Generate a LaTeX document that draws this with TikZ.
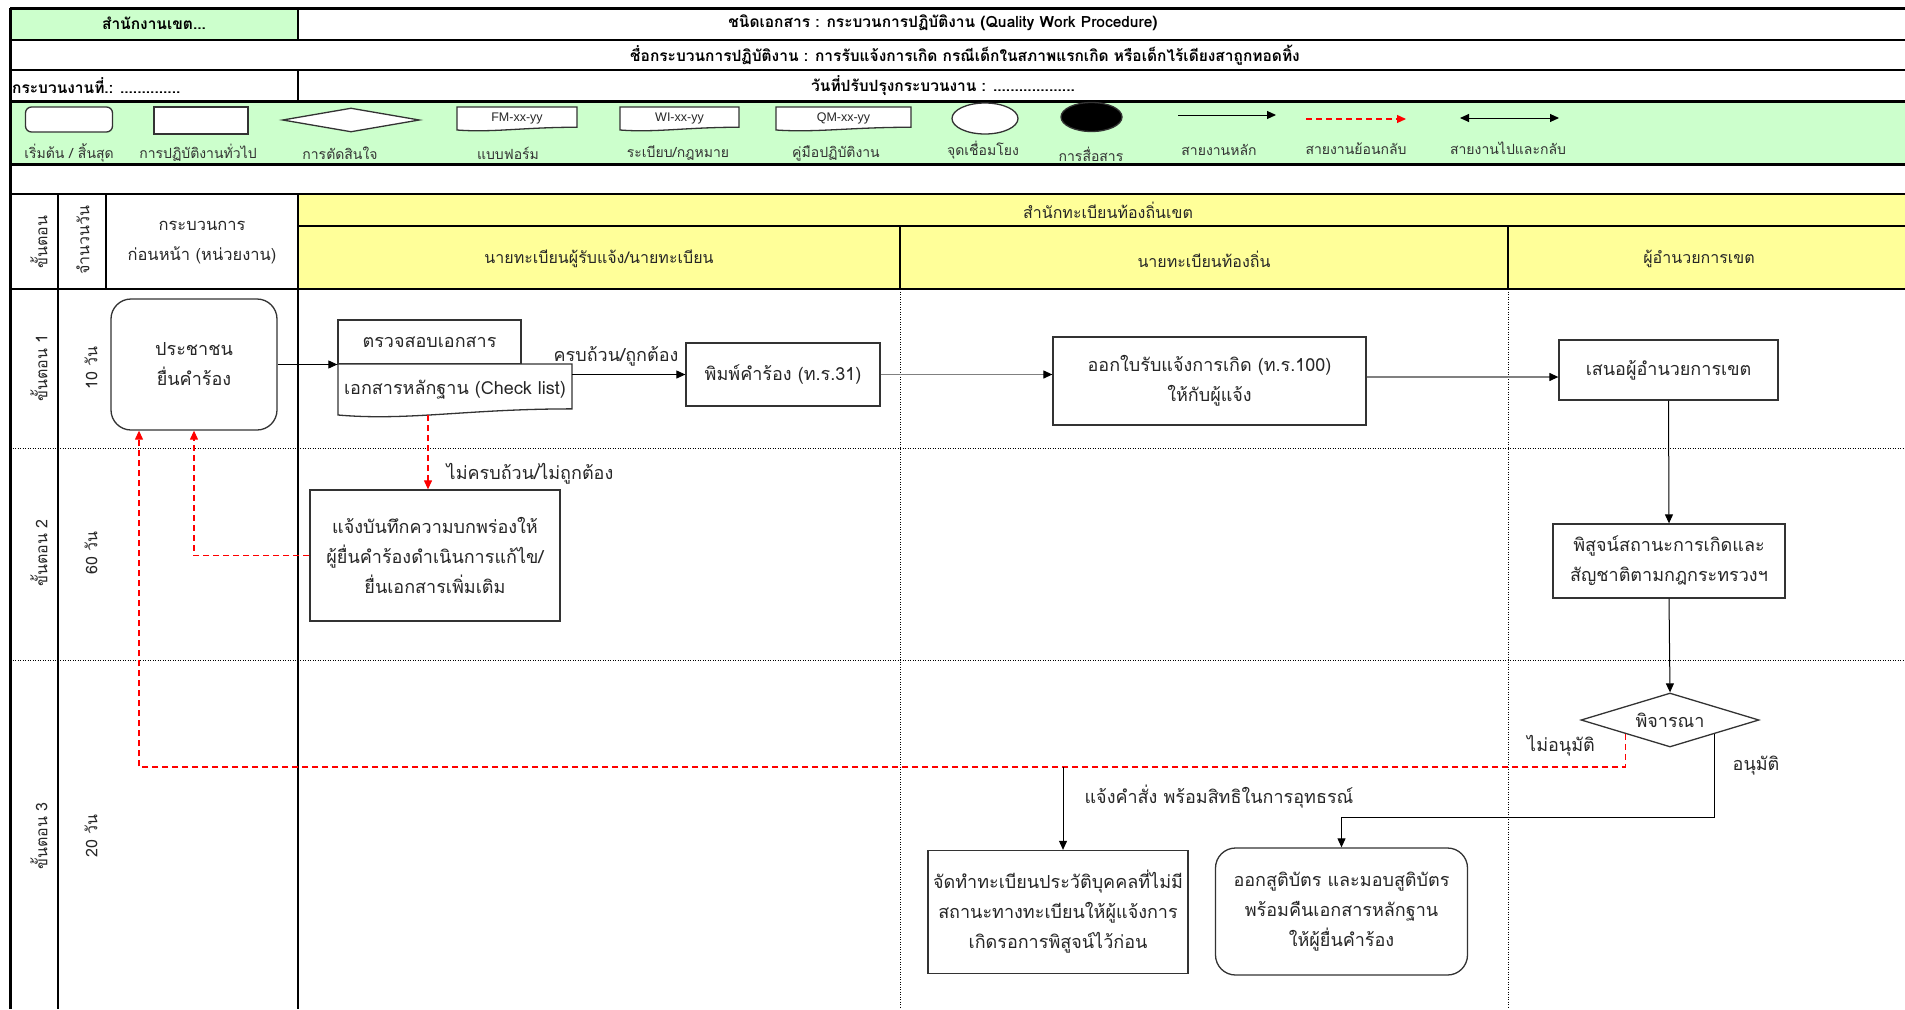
\documentclass[tikz,border=0pt]{standalone}
\usepackage{fontspec}
\newfontfamily\thaifont[Script=Thai]{Loma}
\newfontfamily\codefont{Liberation Sans}
\usetikzlibrary{shapes.geometric,arrows.meta,positioning,calc}
\definecolor{formgreen}{HTML}{CCFFCC}
\definecolor{laneyellow}{HTML}{FFFF99}
\def\docframe(#1,#2)(#3,#4){\draw[boxline, fill=white] ({#1-#3/2},{#2-#4/2}) -- ({#1+#3/2},{#2-#4/2}) -- ({#1+#3/2},{#2+#4/2-0.12*#4}) .. controls ({#1+0.05*#3},{#2+#4/2-0.12*#4}) and ({#1-0.2*#3},{#2+#4/2+0.12*#4}) .. ({#1-#3/2},{#2+#4/2}) -- cycle;}
\tikzset{
  boxline/.style={draw=black!80, line width=1.3},
  procbox/.style={boxline, fill=white, align=center, inner sep=2, text=black!85},
  termbox/.style={procbox, rounded corners=20},
  docnode/.style={align=center, inner sep=0, text=black!85},
  choice/.style={procbox, diamond, aspect=3.3, inner sep=0},
  flow/.style={line width=1, -{Triangle[length=9,width=8]}},
  greyflow/.style={line width=1.2, draw=black!50, -{Triangle[length=9,width=8,color=black]}},
  back/.style={red, line width=1.2, dash pattern=on 6 off 4, -{Triangle[length=9,width=8]}},
  gridline/.style={line width=1.5},
  heavyline/.style={line width=3},
  dotline/.style={line width=1, dash pattern=on 1 off 1.5},
  headtxt/.style={font=\thaifont\bfseries\fontsize{15.5}{18}\selectfont},
  legtxt/.style={font=\thaifont\fontsize{14}{16}\selectfont, text=black!80},
  lanetxt/.style={font=\thaifont\fontsize{16}{20}\selectfont, text=black!85},
  steptxt/.style={font=\thaifont\fontsize{16}{18}\selectfont, text=black!85, rotate=90},
  flowtxt/.style={font=\thaifont\fontsize{18}{22}\selectfont, text=black!85},
}

\begin{document}
\begin{tikzpicture}[x=1pt, y=-1pt, font=\thaifont\fontsize{18}{30}\selectfont]
	%%%%% START %%%%%
	\useasboundingbox (0,0) rectangle (1905,1009);
	
	\fill[formgreen] (10,8) rectangle (298,40);
	\fill[formgreen] (10,101) rectangle (1905,164);
	\fill[laneyellow] (298,194) rectangle (1905,289);
	
	% form header
	\draw[heavyline] (10,8) -- (1905,8);
	\draw[gridline] (10,40) -- (1905,40);
	\draw[gridline] (10,70) -- (1905,70);
	\draw[heavyline] (10,101) -- (1905,101);
	\draw[heavyline] (10,164) -- (1905,164);
	\draw[gridline] (298,8) -- (298,40);
	\draw[gridline] (298,70) -- (298,101);
	\draw[heavyline] (10,8) -- (10,1009);
	
	\node[headtxt] (office) at (154,23) {สำนักงานเขต...};
	\node[headtxt] (doctype) at (943,23) {ชนิดเอกสาร : กระบวนการปฏิบัติงาน (Quality Work Procedure)};
	\node[headtxt] (procname) at (965,55) {ชื่อกระบวนการปฏิบัติงาน : การรับแจ้งการเกิด กรณีเด็กในสภาพแรกเกิด หรือเด็กไร้เดียงสาถูกทอดทิ้ง};
	\node[headtxt, anchor=west, inner sep=0] (procno) at (12,86) {กระบวนงานที่.: ..............};
	\node[headtxt] (update) at (943,86) {วันที่ปรับปรุงกระบวนงาน : ...................};
	
	% legend
	\node[procbox, rounded corners=6, minimum width=87, minimum height=25] (legstart) at (69,119.5) {};
	\node[procbox, minimum width=94, minimum height=27] (legproc) at (201,120.5) {};
	\node[choice, minimum width=137, minimum height=24] (legchoice) at (351,120) {};
	\docframe(517,118.5)(120,23)
	\node[docnode, font=\codefont\fontsize{12.5}{14}\selectfont, minimum width=120, minimum height=23] (legform) at (517,118.5) {FM-xx-yy};
	\docframe(679.5,118.5)(119,23)
	\node[docnode, font=\codefont\fontsize{12.5}{14}\selectfont, minimum width=119, minimum height=23] (legrule) at (679.5,118.5) {WI-xx-yy};
	\docframe(843.5,118.5)(135,23)
	\node[docnode, font=\codefont\fontsize{12.5}{14}\selectfont, minimum width=135, minimum height=23] (legmanual) at (843.5,118.5) {QM-xx-yy};
	\node[boxline, fill=white, ellipse, minimum width=66, minimum height=31, inner sep=0] (leglink) at (985,118.5) {};
	\node[boxline, fill=black, ellipse, minimum width=61, minimum height=29, inner sep=0] (legtalk) at (1091.5,117) {};
	\coordinate (legmainA) at (1178,115);
	\coordinate (legmainB) at (1276,115);
	\draw[flow] (legmainA) -- (legmainB);
	\coordinate (legbackA) at (1306,119);
	\coordinate (legbackB) at (1406,119);
	\draw[back] (legbackA) -- (legbackB);
	\coordinate (legbothA) at (1460,118);
	\coordinate (legbothB) at (1559,118);
	\draw[flow, {Triangle[length=9,width=8]}-{Triangle[length=9,width=8]}] (legbothA) -- (legbothB);
	
	\node[legtxt] (legstartlbl) at (69,153) {เริ่มต้น / สิ้นสุด};
	\node[legtxt] (legproclbl) at (198,153) {การปฏิบัติงานทั่วไป};
	\node[legtxt] (legchoicelbl) at (340,153) {การตัดสินใจ};
	\node[legtxt] (legformlbl) at (508,153) {แบบฟอร์ม};
	\node[legtxt] (legrulelbl) at (678,153) {ระเบียบ/กฎหมาย};
	\node[legtxt] (legmanuallbl) at (836,153) {คู่มือปฏิบัติงาน};
	\node[legtxt] (leglinklbl) at (983,150) {จุดเชื่อมโยง};
	\node[legtxt] (legtalklbl) at (1091,154) {การสื่อสาร};
	\node[legtxt] (legmainlbl) at (1219,150) {สายงานหลัก};
	\node[legtxt] (legbacklbl) at (1356,149) {สายงานย้อนกลับ};
	\node[legtxt] (legbothlbl) at (1508,148) {สายงานไปและกลับ};
	
	% swimlanes
	\draw[gridline] (10,194) -- (1905,194);
	\draw[gridline] (298,226) -- (1905,226);
	\draw[line width=2] (10,289) -- (1905,289);
	\draw[dotline] (10,448) -- (1905,448);
	\draw[dotline] (10,660) -- (1905,660);
	\draw[gridline] (58,194) -- (58,1009);
	\draw[gridline] (106,194) -- (106,289);
	\draw[gridline] (298,194) -- (298,1009);
	\draw[gridline] (900,226) -- (900,289);
	\draw[gridline] (1508,226) -- (1508,289);
	\draw[dotline] (900,289) -- (900,1009);
	\draw[dotline] (1508,289) -- (1508,1009);
	
	\node[steptxt] (stephead) at (39,242) {ขั้นตอน};
	\node[steptxt] (dayhead) at (83,240) {จำนวนวัน};
	\node[lanetxt, align=center, font=\thaifont\fontsize{16.5}{30}\selectfont] (prevhead) at (202,243) {กระบวนการ\\ก่อนหน้า (หน่วยงาน)};
	\node[lanetxt] (agency) at (1108,210) {สำนักทะเบียนท้องถิ่นเขต};
	\node[lanetxt] (laneA) at (599,259) {นายทะเบียนผู้รับแจ้ง/นายทะเบียน};
	\node[lanetxt] (laneB) at (1204,259) {นายทะเบียนท้องถิ่น};
	\node[lanetxt] (laneC) at (1699,259) {ผู้อำนวยการเขต};
	
	\node[steptxt] (stepA) at (39,368) {ขั้นตอน 1};
	\node[steptxt] (daysA) at (91,368) {10 วัน};
	\node[steptxt] (stepB) at (39,553) {ขั้นตอน 2};
	\node[steptxt] (daysB) at (91,553) {60 วัน};
	\node[steptxt] (stepC) at (39,836) {ขั้นตอน 3};
	\node[steptxt] (daysC) at (91,836) {20 วัน};
	
	% process
	\node[termbox, minimum width=166, minimum height=131] (citizen) at (194,364.5) {ประชาชน\\ยื่นคำร้อง};
	\node[procbox, minimum width=183, minimum height=44] (check) at (429.5,342) {ตรวจสอบเอกสาร};
	\docframe(455,389.5)(234,51)
	\node[docnode, minimum width=234, minimum height=51] (checklist) at (455,389.5) {เอกสารหลักฐาน (Check list)};
	\node[procbox, minimum width=194, minimum height=63] (printform) at (783,374.5) {พิมพ์คำร้อง (ท.ร.31)};
	\node[procbox, minimum width=313, minimum height=88] (issue) at (1209.5,381) {ออกใบรับแจ้งการเกิด (ท.ร.100)\\ให้กับผู้แจ้ง};
	\node[procbox, minimum width=219, minimum height=60] (propose) at (1668.5,370) {เสนอผู้อำนวยการเขต};
	\node[procbox, minimum width=232, minimum height=74] (prove) at (1669,561) {พิสูจน์สถานะการเกิดและ\\สัญชาติตามกฎกระทรวงฯ};
	\node[choice, minimum width=178, minimum height=54] (decide) at (1670,720) {พิจารณา};
	\node[procbox, minimum width=250, minimum height=131] (notify) at (435,555.5) {แจ้งบันทึกความบกพร่องให้\\ผู้ยื่นคำร้องดำเนินการแก้ไข/\\ยื่นเอกสารเพิ่มเติม};
	\node[procbox, minimum width=260, minimum height=123] (record) at (1058,912) {จัดทำทะเบียนประวัติบุคคลที่ไม่มี\\สถานะทางทะเบียนให้ผู้แจ้งการ\\เกิดรอการพิสูจน์ไว้ก่อน};
	\node[termbox, minimum width=252, minimum height=127] (birthcert) at (1341.5,911.5) {ออกสูติบัตร และมอบสูติบัตร\\พร้อมคืนเอกสารหลักฐาน\\ให้ผู้ยื่นคำร้อง};
	
	\coordinate (rejturn) at (139,767);
	
	\draw[flow] (citizen.east) -- (citizen.east -| check.west);
	\draw[flow] (checklist.east |- printform.west) -- (printform.west);
	\draw[greyflow] (printform.east) -- (printform.east -| issue.west);
	\draw[greyflow] ([yshift=4]issue.east) -- ([yshift=4]issue.east -| propose.west);
	\draw[flow] (propose.south) -- (prove.north);
	\draw[flow] (prove.south) -- (decide.north);
	\draw[flow] (decide.south east) |- ([yshift=30]birthcert.north) -- (birthcert.north);
	\draw[back] (decide.south west) |- (rejturn) -- (rejturn |- citizen.south);
	\draw[flow] ([xshift=5]record.north |- rejturn) -- ([xshift=5]record.north);
	\draw[back] ([xshift=-27]checklist.south) -- ([xshift=-27]checklist.south |- notify.north);
	\draw[back] (notify.west) -| (citizen.south);
	
	\node[flowtxt] (oklbl) at (616,356) {ครบถ้วน/ถูกต้อง};
	\node[flowtxt] (faillbl) at (530,474) {ไม่ครบถ้วน/ไม่ถูกต้อง};
	\node[flowtxt] (orderlbl) at (1219,797) {แจ้งคำสั่ง พร้อมสิทธิในการอุทธรณ์};
	\node[flowtxt] (rejlbl) at (1561,746) {ไม่อนุมัติ};
	\node[flowtxt] (apprlbl) at (1756,766) {อนุมัติ};
	%%%%% END %%%%%
\end{tikzpicture}
\end{document}
